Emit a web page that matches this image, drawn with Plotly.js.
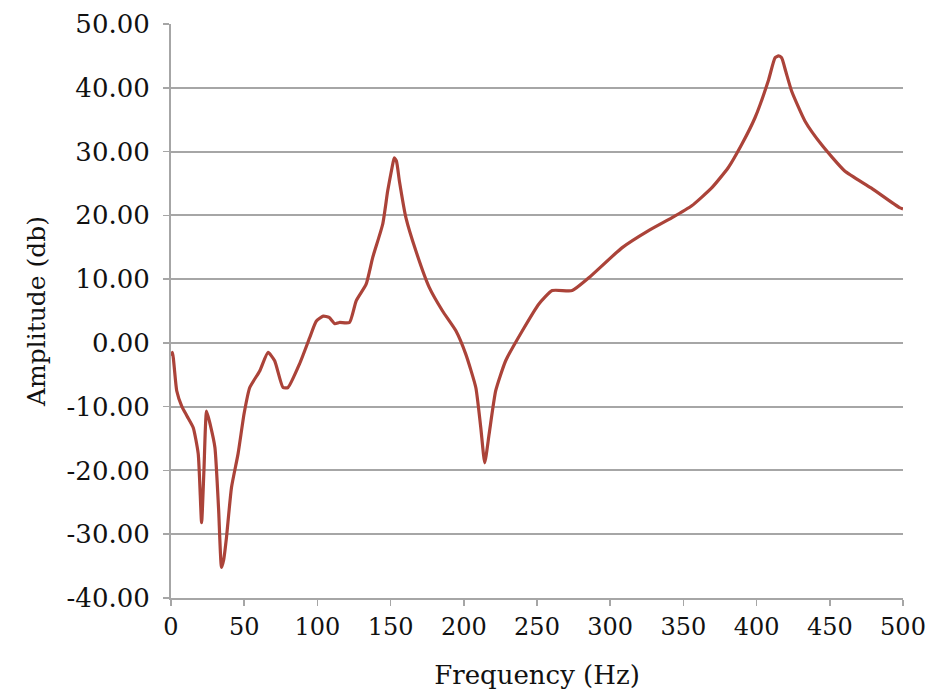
<!DOCTYPE html>
<html>
<head>
<meta charset="utf-8">
<script src="https://cdn.plot.ly/plotly-3.0.1.min.js"></script>
<style>html,body{margin:0;padding:0;background:#fff;}</style>
</head>
<body>
<div id="chart" style="width:928px;height:698px;"></div>
<script>
const frequency = [0, 1, 3.9, 7.3, 11, 15.2, 18.6, 20.9, 22.5, 24.3, 27, 30, 32.5, 34.5, 36, 37.9, 41.3, 45.8, 50, 53.8, 60.6, 66.3, 70.8, 76.5, 79.9, 87.8, 94.7, 99.2, 104, 108, 112, 115, 121.9, 126.5, 133.3, 137.8, 144.6, 148, 151, 152.5, 154, 156, 160.5, 167.3, 176.4, 185.5, 194.6, 201.4, 208.2, 211.6, 214.3, 217.3, 221.8, 228.6, 240, 251.3, 260.4, 274, 285.4, 308, 326.2, 342, 355.7, 369.3, 380.7, 389.8, 398.9, 408, 412.6, 415, 417.1, 420, 423.9, 433, 444.3, 460, 478.2, 497.6, 500];
const amplitude = [-2.0, -1.5, -7.5, -9.9, -11.5, -13.3, -17.4, -28.2, -20, -10.7, -13, -16.4, -26, -35.2, -34, -30.5, -22.7, -17.4, -11, -7.0, -4.4, -1.5, -2.8, -7.0, -7.0, -3.3, 0.8, 3.4, 4.2, 4.0, 3.0, 3.2, 3.2, 6.6, 9.2, 13.4, 18.6, 23.8, 27.5, 29.0, 28.5, 25.4, 19.6, 14.4, 8.7, 5.0, 1.9, -1.8, -7.0, -13.3, -18.8, -14.3, -7.5, -2.8, 1.9, 6.1, 8.2, 8.2, 10.2, 14.9, 17.6, 19.6, 21.5, 24.3, 27.5, 31.1, 35.3, 41.1, 44.7, 45.0, 44.7, 42.5, 39.5, 34.8, 31.1, 27.0, 24.3, 21.2, 21.0];
const yTickVals = [-40, -30, -20, -10, 0, 10, 20, 30, 40, 50];
const yTickText = ['-40.00', '-30.00', '-20.00', '-10.00', '0.00', '10.00', '20.00', '30.00', '40.00', '50.00'];
const xTickVals = [0, 50, 100, 150, 200, 250, 300, 350, 400, 450, 500];

const trace = {
  x: frequency, y: amplitude, type: 'scatter', mode: 'lines',
  line: {color: '#ab4339', width: 3.2, shape: 'spline', smoothing: 0.5},
  hoverinfo: 'skip'
};
const fam = 'DejaVu Serif';
const layout = {
  width: 928, height: 698,
  margin: {l: 171, r: 25, t: 24, b: 100},
  paper_bgcolor: '#fff', plot_bgcolor: '#fff',
  showlegend: false,
  font: {family: fam, color: '#111', size: 26},
  xaxis: {
    range: [0, 500], tickvals: xTickVals, ticktext: xTickVals.map(String),
    showgrid: false, zeroline: false, showline: true, linecolor: '#a6a6a6', linewidth: 2,
    ticks: 'outside', ticklen: 6, tickcolor: '#a6a6a6', tickwidth: 1.5,
    ticklabeloverflow: 'allow',
    tickfont: {family: fam, size: 24, color: '#111'},
    title: {text: 'Frequency (Hz)', font: {family: fam, size: 26, color: '#111'}, standoff: 26}
  },
  yaxis: {
    range: [-40, 50], tickvals: yTickVals, ticktext: yTickText,
    showgrid: true, gridcolor: '#a6a6a6', gridwidth: 2,
    zeroline: false, showline: true, linecolor: '#a6a6a6', linewidth: 2,
    ticks: 'outside', ticklen: 6, tickcolor: '#a6a6a6', tickwidth: 1.5,
    ticklabelstandoff: 8,
    tickfont: {family: fam, size: 26, color: '#111'},
    title: {text: 'Amplitude (db)', font: {family: fam, size: 25, color: '#111'}, standoff: 14}
  }
};
Plotly.newPlot('chart', [trace], layout, {displayModeBar: false, staticPlot: true});
</script>
</body>
</html>
